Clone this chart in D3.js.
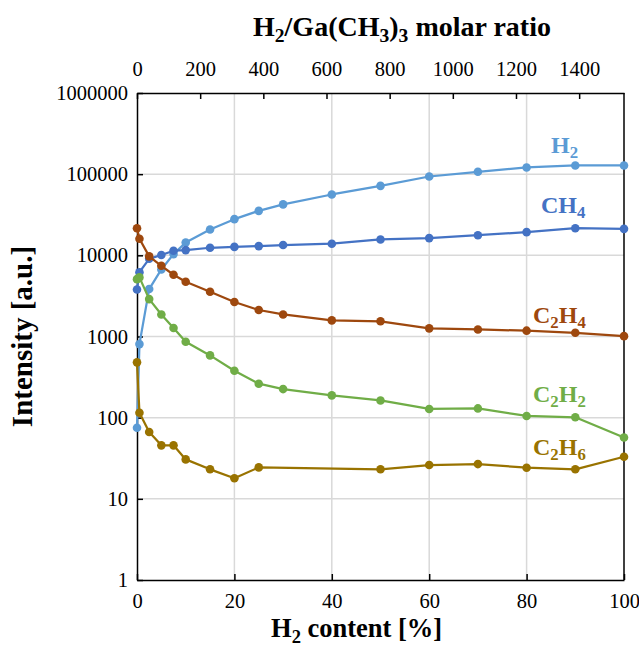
<!DOCTYPE html>
<html>
<head>
<meta charset="utf-8">
<script src="https://cdn.jsdelivr.net/npm/d3@7"></script>
<style>
  body { margin: 0; background: #fff; }
</style>
</head>
<body>
<script>
'use strict';

const FONT = '"Liberation Serif", "Times New Roman", "DejaVu Serif", serif';

// x positions (H2 content, %)
const xPct = [0, 0.5, 2.5, 5, 7.5, 10, 15, 20, 25, 30, 40, 50, 60, 70, 80, 90, 100];
// C2H6 has no points at 30 and 40 %
const xPctC2H6 = [0, 0.5, 2.5, 5, 7.5, 10, 15, 20, 25, 50, 60, 70, 80, 90, 100];

const h2Vals   = [75, 806, 3840, 6700, 10350, 14400, 20800, 27900, 35300, 42400, 56200, 71800, 93600, 107000, 121000, 128000, 128000];
const ch4Vals  = [3800, 6200, 9060, 10100, 11400, 11600, 12400, 12700, 13000, 13400, 13900, 15700, 16300, 17700, 19300, 21600, 21200];
const c2h4Vals = [21600, 16000, 9700, 7430, 5760, 4720, 3560, 2660, 2120, 1870, 1580, 1540, 1260, 1220, 1180, 1110, 1010];
const c2h2Vals = [5090, 5350, 2890, 1870, 1270, 861, 585, 378, 262, 225, 188, 163, 128, 130, 105, 101, 57];
const c2h6Vals = [480, 115, 66.5, 45.6, 45.6, 30.6, 23.1, 17.9, 24.4, 23.1, 26.1, 26.8, 24.2, 23.1, 33];

const yTicks = [1, 10, 100, 1000, 10000, 100000, 1000000];
const xTicks = [0, 20, 40, 60, 80, 100];
const topTicks = [0, 200, 400, 600, 800, 1000, 1200, 1400];
const topMax = 1542; // molar ratio at 100 % H2

// series in drawing order (later ones on top)
const series = [
  { name: 'H2',   x: xPct,     y: h2Vals,   color: '#5b9bd5' },
  { name: 'CH4',  x: xPct,     y: ch4Vals,  color: '#4472c4' },
  { name: 'C2H4', x: xPct,     y: c2h4Vals, color: '#9e480e' },
  { name: 'C2H2', x: xPct,     y: c2h2Vals, color: '#70ad47' },
  { name: 'C2H6', x: xPctC2H6, y: c2h6Vals, color: '#997300' }
];

const W = 639, H = 646;
const margin = { left: 137, right: 15, top: 93, bottom: 66 };
const pw = W - margin.left - margin.right;
const ph = H - margin.top - margin.bottom;

const svg = d3.select('body').append('svg')
  .attr('width', W)
  .attr('height', H)
  .style('font-family', FONT);

const x = d3.scaleLinear().domain([0, 100]).range([margin.left, margin.left + pw]);
const xTop = d3.scaleLinear().domain([0, topMax]).range([margin.left, margin.left + pw]);
const y = d3.scaleLog().domain([1, 1000000]).range([margin.top + ph, margin.top]);

// gridlines
const grid = svg.append('g').attr('stroke', '#d9d9d9').attr('stroke-width', 1.5);
grid.selectAll('.gx').data(xTicks.slice(1, -1)).enter().append('line')
  .attr('x1', d => x(d)).attr('x2', d => x(d))
  .attr('y1', margin.top).attr('y2', margin.top + ph);
grid.selectAll('.gy').data(yTicks.slice(1, -1)).enter().append('line')
  .attr('x1', margin.left).attr('x2', margin.left + pw)
  .attr('y1', d => y(d)).attr('y2', d => y(d));

// axes
function styleAxis(g) {
  g.attr('font-family', null).attr('font-size', null);
  g.select('.domain').attr('stroke', '#000').attr('stroke-width', 1.5);
  g.selectAll('.tick line').attr('stroke', '#000').attr('stroke-width', 1.5);
  g.selectAll('.tick text')
    .attr('fill', '#000')
    .style('font-family', FONT)
    .style('font-size', '20.5px');
}

svg.append('g')
  .attr('transform', `translate(0,${margin.top + ph})`)
  .call(d3.axisBottom(x).tickValues(xTicks).tickSizeInner(-6).tickSizeOuter(0).tickPadding(13))
  .call(styleAxis);

svg.append('g')
  .attr('transform', `translate(0,${margin.top})`)
  .call(d3.axisTop(xTop).tickValues(topTicks).tickFormat(d3.format('d')).tickSizeInner(-6).tickSizeOuter(0).tickPadding(17))
  .call(styleAxis);

svg.append('g')
  .attr('transform', `translate(${margin.left},0)`)
  .call(d3.axisLeft(y).tickValues(yTicks).tickFormat(d3.format('d')).tickSizeInner(-6).tickSizeOuter(0).tickPadding(9))
  .call(styleAxis);

svg.append('line')
  .attr('x1', margin.left + pw).attr('x2', margin.left + pw)
  .attr('y1', margin.top).attr('y2', margin.top + ph)
  .attr('stroke', '#000').attr('stroke-width', 1.5);

// lines + markers
const line = d3.line().x(d => x(d[0])).y(d => y(d[1]));
series.forEach(s => {
  const pts = s.x.map((v, i) => [v, s.y[i]]);
  const g = svg.append('g');
  g.append('path')
    .datum(pts)
    .attr('d', line)
    .attr('fill', 'none')
    .attr('stroke', s.color)
    .attr('stroke-width', 2.25)
    .attr('stroke-linejoin', 'round');
  g.selectAll('circle').data(pts).enter().append('circle')
    .attr('cx', d => x(d[0]))
    .attr('cy', d => y(d[1]))
    .attr('r', 4.3)
    .attr('fill', s.color);
});

// chemical formula text: plain strings, {sub: '2'} for subscripts
function label(px, py, parts, color, size) {
  const t = svg.append('text')
    .attr('x', px).attr('y', py)
    .attr('fill', color)
    .style('font-family', FONT)
    .style('font-size', size + 'px')
    .style('font-weight', 'bold');
  let shift = 0;
  parts.forEach(p => {
    const isSub = typeof p !== 'string';
    const target = isSub ? size * 0.22 : 0;
    t.append('tspan')
      .attr('dy', target - shift)
      .style('font-size', (isSub ? size * 0.7 : size) + 'px')
      .text(isSub ? p.sub : p);
    shift = target;
  });
  return t;
}

label(551, 153, ['H', { sub: '2' }], '#5b9bd5', 24);
label(541, 213, ['CH', { sub: '4' }], '#4472c4', 24);
label(533, 323, ['C', { sub: '2' }, 'H', { sub: '4' }], '#9e480e', 24);
label(533, 402, ['C', { sub: '2' }, 'H', { sub: '2' }], '#70ad47', 24);
label(533, 455, ['C', { sub: '2' }, 'H', { sub: '6' }], '#997300', 24);

// axis titles
label(253, 36, ['H', { sub: '2' }, '/Ga(CH', { sub: '3' }, ')', { sub: '3' }, ' molar ratio'], '#000', 28);

label(271, 637, ['H', { sub: '2' }, ' content [%]'], '#000', 26.5);

svg.append('text')
  .attr('transform', `translate(32,${margin.top + ph / 2}) rotate(-90)`)
  .attr('text-anchor', 'middle')
  .style('font-family', FONT)
  .style('font-size', '29px')
  .style('font-weight', 'bold')
  .text('Intensity [a.u.]');
</script>
</body>
</html>
